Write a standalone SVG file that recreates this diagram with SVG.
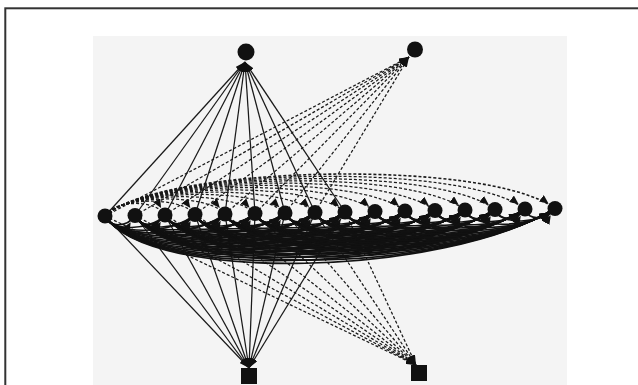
<svg xmlns="http://www.w3.org/2000/svg" width="638" height="385" viewBox="0 0 638 385">
<style>
.e{fill:none;stroke:#1a1a1a;stroke-width:1.25}
.d{stroke-dasharray:3 2}
.n{fill:#111}
</style>
<defs>
<marker id="ah" viewBox="0 0 10 7" refX="10" refY="3.5" markerWidth="10" markerHeight="7" markerUnits="userSpaceOnUse" orient="auto"><path d="M0,0 L10,3.5 L0,7 z" fill="#111" stroke="none"/></marker>
<marker id="an" viewBox="0 0 17 8" refX="17" refY="4" markerWidth="17" markerHeight="8" markerUnits="userSpaceOnUse" orient="auto"><path d="M0,0 L9,4 L0,8 z" fill="#111" stroke="none"/></marker>
<path id="d1" d="M0,0 C3,12 22.5,11.5 30,-0.5" fill="none" stroke="#111" stroke-width="1.7" marker-end="url(#an)"/>
<path id="d2" d="M0,0 C6,16 45,15 60,-1" fill="none" stroke="#111" stroke-width="1.7" marker-end="url(#an)"/>
<path id="d3" d="M0,0 C9,20 67.5,18.5 90,-1.5" fill="none" stroke="#111" stroke-width="1.7" marker-end="url(#an)"/>
<path id="d4" d="M0,0 C12,24 90,22 120,-2" fill="none" stroke="#111" stroke-width="1.7" marker-end="url(#an)"/>
<path id="d5" d="M0,0 C15,28 112.5,25.5 150,-2.5" fill="none" stroke="#111" stroke-width="1.7" marker-end="url(#an)"/>
<path id="d6" d="M0,0 C18,32 135,29 180,-3" fill="none" stroke="#111" stroke-width="1.7" marker-end="url(#an)"/>
<path id="d7" d="M0,0 C21,36 157.5,32.5 210,-3.5" fill="none" stroke="#111" stroke-width="1.7" marker-end="url(#an)"/>
<path id="d8" d="M0,0 C24,40 180,36 240,-4" fill="none" stroke="#111" stroke-width="1.7" marker-end="url(#an)"/>
<path id="d9" d="M0,0 C27,44 202.5,39.5 270,-4.5" fill="none" stroke="#111" stroke-width="1.7" marker-end="url(#an)"/>
<path id="d10" d="M0,0 C30,48 225,43 300,-5" fill="none" stroke="#111" stroke-width="1.7" marker-end="url(#an)"/>
<path id="d11" d="M0,0 C33,52 247.5,46.5 330,-5.5" fill="none" stroke="#111" stroke-width="1.7" marker-end="url(#an)"/>
<path id="d12" d="M0,0 C36,56 270,50 360,-6" fill="none" stroke="#111" stroke-width="1.7" marker-end="url(#an)"/>
<path id="d13" d="M0,0 C39,60 292.5,53.5 390,-6.5" fill="none" stroke="#111" stroke-width="1.7" marker-end="url(#an)"/>
<path id="d14" d="M0,0 C42,64 315,57 420,-7" fill="none" stroke="#111" stroke-width="1.7" marker-end="url(#an)"/>
<path id="d15" d="M0,0 C45,68 337.5,60.5 450,-7.5" fill="none" stroke="#111" stroke-width="1.7" marker-end="url(#an)"/>
</defs>
<rect x="5.3" y="8.3" width="700" height="500" fill="#fff" stroke="#333" stroke-width="2"/>
<rect x="93" y="36" width="474" height="360" fill="#f4f4f4"/>
<g id="connectors">
<g id="toA" class="e" marker-end="url(#ah)">
<path d="M105,216 L245,62"/><path d="M135,215.5 L245,62"/><path d="M165,215 L245,62"/><path d="M195,214.5 L245,62"/><path d="M225,214 L245,62"/><path d="M255,213.5 L245,62"/><path d="M285,213 L245,62"/><path d="M315,212.5 L245,62"/><path d="M345,212 L245,62"/>
</g>
<g id="toB" class="e d" marker-end="url(#ah)">
<path d="M105,216 L409,57"/><path d="M135,215.5 L409,57"/><path d="M165,215 L409,57"/><path d="M195,214.5 L409,57"/><path d="M225,214 L409,57"/><path d="M255,213.5 L409,57"/><path d="M285,213 L409,57"/><path d="M315,212.5 L409,57"/>
</g>
<g id="toS1" class="e" marker-end="url(#ah)">
<path d="M105,216 L249,368"/><path d="M135,215.5 L249,368"/><path d="M165,215 L249,368"/><path d="M195,214.5 L249,368"/><path d="M225,214 L249,368"/><path d="M255,213.5 L249,368"/><path d="M285,213 L249,368"/><path d="M315,212.5 L249,368"/><path d="M345,212 L249,368"/>
</g>
<g id="toS2" class="e d" marker-end="url(#ah)">
<path d="M105,216 L416,365"/><path d="M135,215.5 L416,365"/><path d="M165,215 L416,365"/><path d="M195,214.5 L416,365"/><path d="M225,214 L416,365"/><path d="M255,213.5 L416,365"/><path d="M285,213 L416,365"/><path d="M315,212.5 L416,365"/><path d="M345,212 L416,365"/>
</g>
<g id="upper" class="e d" marker-end="url(#an)">
<path d="M105,216 C112.2,200 156,199 165,215"/>
<path d="M105,216 C115.8,197.3 181.5,195.8 195,214.5"/>
<path d="M105,216 C119.4,194.7 207,192.7 225,214"/>
<path d="M105,216 C123,192 232.5,189.5 255,213.5"/>
<path d="M105,216 C126.6,189.3 258,186.3 285,213"/>
<path d="M105,216 C130.2,186.7 283.5,183.2 315,212.5"/>
<path d="M105,216 C133.8,184 309,180 345,212"/>
<path d="M105,216 C137.4,181.3 334.5,176.8 375,211.5"/>
<path d="M105,216 C141,178.7 360,173.7 405,211"/>
<path d="M105,216 C144.6,176 385.5,170.5 435,210.5"/>
<path d="M105,216 C148.2,173.3 411,167.3 465,210"/>
<path d="M105,216 C151.8,170.7 436.5,164.2 495,209.5"/>
<path d="M105,216 C155.4,168 462,161 525,209"/>
<path d="M105,216 C159,165.3 487.5,157.8 555,208.5" stroke-width="1.6"/>
</g>
<g id="lower">
<g transform="translate(105 216)"><use href="#d1"/><use href="#d2"/><use href="#d3"/><use href="#d4"/><use href="#d5"/><use href="#d6"/><use href="#d7"/><use href="#d8"/><use href="#d9"/><use href="#d10"/><use href="#d11"/><use href="#d12"/><use href="#d13"/><use href="#d14"/><use href="#d15"/></g>
<g transform="translate(135 215.5)"><use href="#d1"/><use href="#d2"/><use href="#d3"/><use href="#d4"/><use href="#d5"/><use href="#d6"/><use href="#d7"/><use href="#d8"/><use href="#d9"/><use href="#d10"/><use href="#d11"/><use href="#d12"/><use href="#d13"/><use href="#d14"/></g>
<g transform="translate(165 215)"><use href="#d1"/><use href="#d2"/><use href="#d3"/><use href="#d4"/><use href="#d5"/><use href="#d6"/><use href="#d7"/><use href="#d8"/><use href="#d9"/><use href="#d10"/><use href="#d11"/><use href="#d12"/><use href="#d13"/></g>
<g transform="translate(195 214.5)"><use href="#d1"/><use href="#d2"/><use href="#d3"/><use href="#d4"/><use href="#d5"/><use href="#d6"/><use href="#d7"/><use href="#d8"/><use href="#d9"/><use href="#d10"/><use href="#d11"/><use href="#d12"/></g>
<g transform="translate(225 214)"><use href="#d1"/><use href="#d2"/><use href="#d3"/><use href="#d4"/><use href="#d5"/><use href="#d6"/><use href="#d7"/><use href="#d8"/><use href="#d9"/><use href="#d10"/><use href="#d11"/></g>
<g transform="translate(255 213.5)"><use href="#d1"/><use href="#d2"/><use href="#d3"/><use href="#d4"/><use href="#d5"/><use href="#d6"/><use href="#d7"/><use href="#d8"/><use href="#d9"/><use href="#d10"/></g>
<g transform="translate(285 213)"><use href="#d1"/><use href="#d2"/><use href="#d3"/><use href="#d4"/><use href="#d5"/><use href="#d6"/><use href="#d7"/><use href="#d8"/><use href="#d9"/></g>
<g transform="translate(315 212.5)"><use href="#d1"/><use href="#d2"/><use href="#d3"/><use href="#d4"/><use href="#d5"/><use href="#d6"/><use href="#d7"/><use href="#d8"/></g>
<g transform="translate(345 212)"><use href="#d1"/><use href="#d2"/><use href="#d3"/><use href="#d4"/><use href="#d5"/><use href="#d6"/><use href="#d7"/></g>
<g transform="translate(375 211.5)"><use href="#d1"/><use href="#d2"/><use href="#d3"/><use href="#d4"/><use href="#d5"/><use href="#d6"/></g>
<g transform="translate(405 211)"><use href="#d1"/><use href="#d2"/><use href="#d3"/><use href="#d4"/><use href="#d5"/></g>
<g transform="translate(435 210.5)"><use href="#d1"/><use href="#d2"/><use href="#d3"/><use href="#d4"/></g>
<g transform="translate(465 210)"><use href="#d1"/><use href="#d2"/><use href="#d3"/></g>
<g transform="translate(495 209.5)"><use href="#d1"/><use href="#d2"/></g>
<g transform="translate(525 209)"><use href="#d1"/></g>
</g>
</g>
<g id="A"><circle class="n" cx="246" cy="52" r="8.5"/></g>
<g id="B"><circle class="n" cx="415" cy="49.5" r="8"/></g>
<g id="S1"><rect class="n" x="241" y="368" width="16" height="16"/></g>
<g id="S2"><rect class="n" x="411" y="365" width="16" height="16"/></g>
<g id="n0"><circle class="n" cx="105" cy="216" r="7.5"/></g>
<g id="n1"><circle class="n" cx="135" cy="215.5" r="7.5"/></g>
<g id="n2"><circle class="n" cx="165" cy="215" r="7.5"/></g>
<g id="n3"><circle class="n" cx="195" cy="214.5" r="7.5"/></g>
<g id="n4"><circle class="n" cx="225" cy="214" r="7.5"/></g>
<g id="n5"><circle class="n" cx="255" cy="213.5" r="7.5"/></g>
<g id="n6"><circle class="n" cx="285" cy="213" r="7.5"/></g>
<g id="n7"><circle class="n" cx="315" cy="212.5" r="7.5"/></g>
<g id="n8"><circle class="n" cx="345" cy="212" r="7.5"/></g>
<g id="n9"><circle class="n" cx="375" cy="211.5" r="7.5"/></g>
<g id="n10"><circle class="n" cx="405" cy="211" r="7.5"/></g>
<g id="n11"><circle class="n" cx="435" cy="210.5" r="7.5"/></g>
<g id="n12"><circle class="n" cx="465" cy="210" r="7.5"/></g>
<g id="n13"><circle class="n" cx="495" cy="209.5" r="7.5"/></g>
<g id="n14"><circle class="n" cx="525" cy="209" r="7.5"/></g>
<g id="n15"><circle class="n" cx="555" cy="208.5" r="7.5"/></g>
</svg>
